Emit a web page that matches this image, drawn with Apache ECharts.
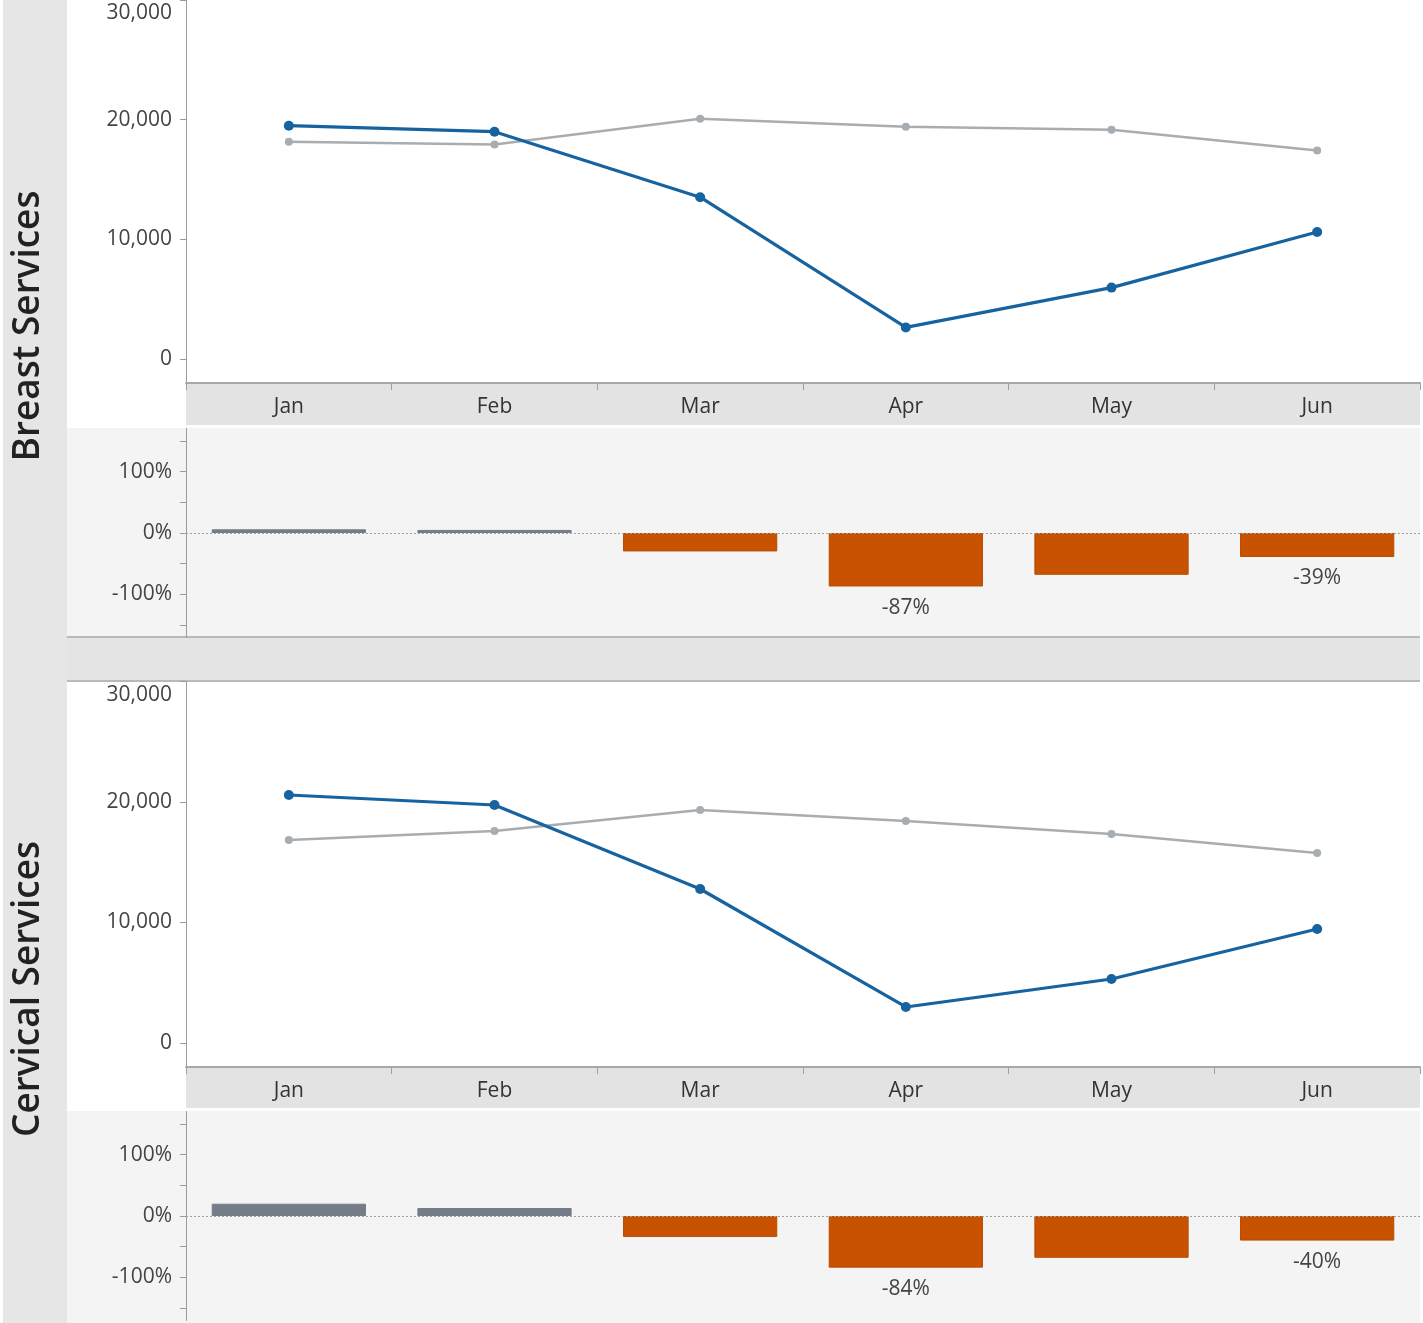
<!DOCTYPE html>
<html>
<head>
<meta charset="utf-8">
<script src="https://cdn.jsdelivr.net/npm/echarts@6/dist/echarts.min.js"></script>
<style>
html,body{margin:0;padding:0;background:#fff;}
#chart{width:1423px;height:1323px;}
</style>
</head>
<body>
<div id="chart"></div>
<script>
// ---- data ----
const months = ['Jan', 'Feb', 'Mar', 'Apr', 'May', 'Jun'];
const breast2019 = [18170, 17925, 20080, 19420, 19170, 17430];
const breast2020 = [19500, 19000, 13530, 2650, 5975, 10620];
const breastPct = [6, 5, -30, -87, -68, -39];
const breastLabelled = ['Apr', 'Jun'];
const cervical2019 = [16850, 17590, 19340, 18420, 17340, 15770];
const cervical2020 = [20580, 19750, 12780, 2990, 5310, 9460];
const cervicalPct = [20, 13, -34, -84, -68, -40];
const cervicalLabelled = ['Apr', 'Jun'];
const countTicks = [0, 10000, 20000, 30000];
const pctLabels = [-100, 0, 100];
const pctTicks = [-150, -100, -50, 0, 50, 100, 150];
const panelTitles = ['Breast Services', 'Cervical Services'];

// ---- styles ----
const FONT = '"Open Sans", "Noto Sans", sans-serif';
const BLUE = '#1763a0';
const GREY_LINE = '#a8adb2';
const ORANGE = '#c85200';
const GREY_BAR = '#747d87';
const AXIS = '#9c9c9c';

const chart = echarts.init(document.getElementById('chart'), null, {renderer: 'canvas'});

const L = 186, R = 3;
const grids = [
  {left: L, right: R, top: -2.5, height: 385.6},
  {left: L, right: R, top: 428.5, height: 209},
  {left: L, right: R, top: 681.5, height: 385.6},
  {left: L, right: R, top: 1111.5, height: 209}
];

function countAxis(gi) {
  return {
    type: 'value', gridIndex: gi, min: -2000, max: 30000,
    axisLine: {show: true, lineStyle: {color: AXIS, width: 1}},
    axisTick: {show: true, length: 6, customValues: countTicks, lineStyle: {color: AXIS}},
    splitLine: {show: false},
    axisLabel: {
      customValues: countTicks, margin: 14, fontFamily: FONT, fontSize: 21, color: '#444',
      formatter: v => v === 30000 ? '{t|' + v.toLocaleString('en-US') + '}' : v.toLocaleString('en-US'),
      rich: {t: {fontFamily: FONT, fontSize: 21, color: '#444', padding: [27, 0, 0, 0]}}
    }
  };
}
function pctAxis(gi) {
  return {
    type: 'value', gridIndex: gi, min: -170, max: 170,
    axisLine: {show: true, lineStyle: {color: AXIS, width: 1}},
    axisTick: {show: true, length: 6, customValues: pctTicks, lineStyle: {color: AXIS}},
    splitLine: {show: false},
    axisLabel: {customValues: pctLabels, margin: 14, fontFamily: FONT, fontSize: 21, color: '#444',
      formatter: v => v + '%'}
  };
}
function monthAxis(gi, showLabels) {
  return {
    type: 'category', gridIndex: gi, data: months, boundaryGap: true, position: 'bottom',
    axisLine: {show: showLabels, onZero: false, lineStyle: {color: '#a9a9a9', width: 2}},
    axisTick: {show: showLabels, length: 7, lineStyle: {color: '#a0a0a0'}},
    axisLabel: {show: showLabels, margin: 13, fontFamily: FONT, fontSize: 21, color: '#333'}
  };
}
function lineSeries(gi, data, color, width, size) {
  return {
    type: 'line', xAxisIndex: gi, yAxisIndex: gi, data: data,
    symbol: 'circle', symbolSize: size, showSymbol: true,
    lineStyle: {color: color, width: width}, itemStyle: {color: color},
    z: color === BLUE ? 4 : 3, animation: false
  };
}
function barSeries(gi, values, labelled) {
  return {
    type: 'bar', xAxisIndex: gi, yAxisIndex: gi, barWidth: '75%',
    data: values.map((v, i) => ({
      value: v,
      itemStyle: {color: v < 0 ? ORANGE : GREY_BAR, borderColor: v < 0 ? '#b84c00' : GREY_BAR, borderWidth: 1},
      label: {show: labelled.indexOf(months[i]) >= 0}
    })),
    label: {position: 'bottom', distance: 11, fontFamily: FONT, fontSize: 21, color: '#444', formatter: p => p.value + '%'},
    markLine: {
      silent: true, symbol: 'none', animation: false,
      label: {show: false},
      lineStyle: {type: [2, 2], color: '#a0a0a0', width: 1},
      data: [{yAxis: 0}]
    },
    animation: false
  };
}

const bg = [];
function rect(x, y, w, h, fill) {
  bg.push({type: 'rect', z: -10, silent: true, shape: {x: x, y: y, width: w, height: h},
    style: {fill: fill}});
}
function hline(x1, x2, y, color) {
  bg.push({type: 'line', z: -9, silent: true, shape: {x1: x1, y1: y, x2: x2, y2: y},
    style: {stroke: color, lineWidth: 2}});
}
rect(3, 0, 64, 1323, '#e6e6e6');
rect(186, 383, 1234, 42, '#e3e3e3');
rect(67, 428, 1353, 208, '#f4f4f4');
rect(67, 636, 1353, 45, '#e4e4e4');
hline(67, 1420, 637, '#b9b9b9');
hline(67, 1420, 681, '#b9b9b9');
rect(186, 1068, 1234, 40, '#e3e3e3');
rect(67, 1111, 1353, 212, '#f4f4f4');

const titles = [
  {type: 'text', z: 100, x: 28, y: 326, rotation: Math.PI / 2,
    style: {text: panelTitles[0], fontFamily: FONT, fontWeight: 600, fontSize: 37, fill: '#222', align: 'center', verticalAlign: 'middle'}},
  {type: 'text', z: 100, x: 28, y: 989, rotation: Math.PI / 2,
    style: {text: panelTitles[1], fontFamily: FONT, fontWeight: 600, fontSize: 37, fill: '#222', align: 'center', verticalAlign: 'middle'}}
];

chart.setOption({
  backgroundColor: '#ffffff',
  animation: false,
  grid: grids,
  xAxis: [monthAxis(0, true), monthAxis(1, false), monthAxis(2, true), monthAxis(3, false)],
  yAxis: [countAxis(0), pctAxis(1), countAxis(2), pctAxis(3)],
  graphic: bg.concat(titles),
  series: [
    lineSeries(0, breast2019, GREY_LINE, 2.5, 8),
    lineSeries(0, breast2020, BLUE, 3.2, 10),
    barSeries(1, breastPct, breastLabelled),
    lineSeries(2, cervical2019, GREY_LINE, 2.5, 8),
    lineSeries(2, cervical2020, BLUE, 3.2, 10),
    barSeries(3, cervicalPct, cervicalLabelled)
  ]
});
</script>
</body>
</html>
